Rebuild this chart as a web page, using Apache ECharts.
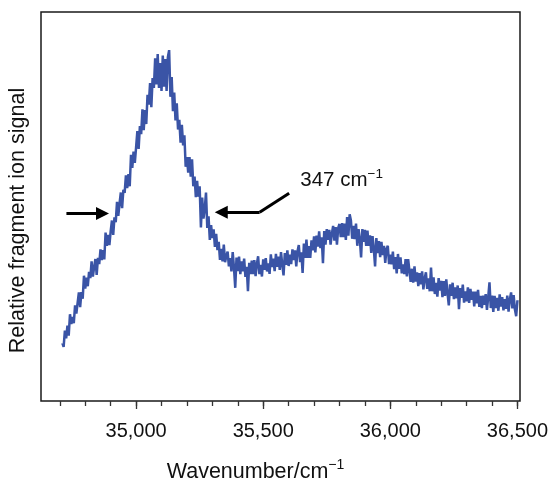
<!DOCTYPE html>
<html>
<head>
<meta charset="utf-8">
<script src="https://cdn.jsdelivr.net/npm/echarts@6/dist/echarts.min.js"></script>
<style>
html,body{margin:0;padding:0;background:#fff;}
#chart{width:551px;height:483px;}
</style>
</head>
<body>
<div id="chart"></div>
<script>
// Wavenumber sampling (cm^-1)
const wavenumbers = [
34710,34715,34720,34725,34730,34735,34740,34745,34750,34755,
34760,34765,34770,34775,34780,34785,34790,34795,34800,34805,
34810,34815,34820,34825,34830,34835,34840,34845,34850,34855,
34860,34865,34870,34875,34880,34885,34890,34895,34900,34905,
34910,34915,34920,34925,34930,34935,34940,34945,34950,34955,
34960,34965,34970,34975,34980,34985,34990,34995,35000,35005,
35010,35015,35020,35025,35030,35035,35040,35045,35050,35055,
35060,35065,35070,35075,35080,35085,35090,35095,35100,35105,
35110,35115,35120,35125,35130,35135,35140,35145,35150,35155,
35160,35165,35170,35175,35180,35185,35190,35195,35200,35205,
35210,35215,35220,35225,35230,35235,35240,35245,35250,35255,
35260,35265,35270,35275,35280,35285,35290,35295,35300,35305,
35310,35315,35320,35325,35330,35335,35340,35345,35350,35355,
35360,35365,35370,35375,35380,35385,35390,35395,35400,35405,
35410,35415,35420,35425,35430,35435,35440,35445,35450,35455,
35460,35465,35470,35475,35480,35485,35490,35495,35500,35505,
35510,35515,35520,35525,35530,35535,35540,35545,35550,35555,
35560,35565,35570,35575,35580,35585,35590,35595,35600,35605,
35610,35615,35620,35625,35630,35635,35640,35645,35650,35655,
35660,35665,35670,35675,35680,35685,35690,35695,35700,35705,
35710,35715,35720,35725,35730,35735,35740,35745,35750,35755,
35760,35765,35770,35775,35780,35785,35790,35795,35800,35805,
35810,35815,35820,35825,35830,35835,35840,35845,35850,35855,
35860,35865,35870,35875,35880,35885,35890,35895,35900,35905,
35910,35915,35920,35925,35930,35935,35940,35945,35950,35955,
35960,35965,35970,35975,35980,35985,35990,35995,36000,36005,
36010,36015,36020,36025,36030,36035,36040,36045,36050,36055,
36060,36065,36070,36075,36080,36085,36090,36095,36100,36105,
36110,36115,36120,36125,36130,36135,36140,36145,36150,36155,
36160,36165,36170,36175,36180,36185,36190,36195,36200,36205,
36210,36215,36220,36225,36230,36235,36240,36245,36250,36255,
36260,36265,36270,36275,36280,36285,36290,36295,36300,36305,
36310,36315,36320,36325,36330,36335,36340,36345,36350,36355,
36360,36365,36370,36375,36380,36385,36390,36395,36400,36405,
36410,36415,36420,36425,36430,36435,36440,36445,36450,36455,
36460,36465,36470,36475,36480,36485,36490,36495,36500
];

// Relative fragment ion signal (arbitrary units)
const signal = [
14.9,13.9,18.1,16.1,19.4,16.8,22.3,19.8,21.6,20.0,
24.6,22.5,25.2,27.9,24.1,28.0,26.3,32.2,28.9,31.7,
29.5,33.2,31.6,35.9,32.0,34.4,36.5,32.4,36.8,35.2,
39.0,36.2,38.8,36.4,43.3,39.9,42.7,40.1,43.6,46.4,
42.7,47.2,46.0,51.2,47.6,50.8,53.6,49.6,54.3,53.5,
58.0,54.7,58.3,55.2,63.3,59.9,64.1,61.2,65.2,69.4,
64.8,70.7,68.6,75.0,69.6,74.8,71.2,78.7,76.2,81.7,
75.5,83.0,80.5,88.1,81.4,89.2,80.5,86.9,79.7,88.8,
80.8,87.9,79.7,88.4,90.2,78.2,83.3,74.5,79.3,72.1,
76.5,69.8,72.3,66.4,71.0,65.7,68.3,60.2,62.7,58.7,
62.7,57.7,62.1,55.2,57.7,52.4,56.6,52.5,55.2,44.6,
52.3,46.9,49.4,53.6,44.5,47.5,41.4,45.2,41.9,44.1,
39.6,43.0,38.8,40.9,36.3,39.1,35.9,40.2,35.7,37.3,
38.4,34.6,36.7,33.3,38.3,34.3,29.1,36.9,33.4,37.1,
32.6,35.9,33.3,36.6,31.9,34.5,28.2,35.5,32.6,36.1,
32.6,36.2,32.1,35.2,37.2,32.6,35.0,32.0,36.4,33.7,
36.7,33.3,35.4,32.7,37.7,34.4,36.6,33.4,37.8,34.5,
37.1,33.7,38.3,35.0,32.3,38.0,35.0,38.7,34.7,37.6,
35.2,39.0,36.2,38.7,34.6,38.5,40.1,35.7,38.2,32.9,
40.5,36.8,41.5,36.8,39.8,36.8,41.3,38.7,42.3,38.2,
42.5,39.7,43.6,39.3,42.1,35.4,43.7,40.2,44.2,41.4,
44.0,40.2,43.0,45.0,41.2,44.7,40.2,44.5,45.5,42.1,
45.7,42.1,45.6,41.4,47.3,42.5,48.0,46.4,41.7,45.0,
41.6,45.6,39.9,44.2,41.6,36.9,44.2,40.9,44.0,39.9,
43.8,39.9,42.6,38.1,42.4,39.1,34.6,41.9,38.0,41.1,
37.0,40.9,37.5,39.9,35.5,39.1,39.9,35.2,37.6,35.1,
38.4,33.9,37.0,32.8,37.8,34.0,36.9,32.8,35.1,32.6,
36.5,32.0,36.5,33.6,30.6,34.0,30.4,34.6,30.7,33.1,
29.5,32.9,30.0,33.3,28.7,31.5,33.1,28.8,31.5,28.2,
34.3,28.2,31.8,27.5,30.4,26.8,31.6,28.4,30.9,26.7,
30.8,27.0,31.3,27.7,24.6,30.0,27.0,30.4,26.2,29.2,
26.4,29.7,23.6,29.0,26.5,29.9,25.3,28.2,25.6,29.2,
25.2,28.8,26.0,28.1,24.3,28.1,25.1,28.6,24.2,27.0,
23.9,27.1,24.7,27.5,23.4,26.7,30.5,23.9,27.1,22.9,
27.0,23.9,26.5,23.2,27.4,24.3,26.7,23.3,26.2,23.7,
27.1,23.0,26.1,27.9,23.8,27.2,23.5,21.8,25.9
];

// Axis range and ticks
const xMin = 34626, xMax = 36510;
const majorTicks = [35000, 35500, 36000, 36500];
const minorTicks = [34700,34800,34900,35000,35100,35200,35300,35400,35500,35600,35700,35800,35900,36000,36100,36200,36300,36400,36500];

// Annotation anchors (data units)
const leftArrow = [[34726, 48.2], [34868, 48.2]];
const rightArrowDiag = [[35602, 53.4], [35486, 48.5]];
const rightArrowFlat = [[35486, 48.5], [35335, 48.5]];
const peakWidthLabel = [35644, 56.6];
const peakWidthText = '347 cm{sup|\u22121}';

const FONT = '"Liberation Sans", Arial, Helvetica, sans-serif';
const chart = echarts.init(document.getElementById('chart'), null, {renderer: 'canvas'});

const arrowStyle = {color: '#000', width: 3, type: 'solid', cap: 'butt'};

chart.setOption({
  animation: false,
  backgroundColor: '#fff',
  grid: {left: 41, right: 31, top: 12, bottom: 82, show: true, borderColor: '#1a1a1a', borderWidth: 1.5, containLabel: false, outerBoundsMode: 'none'},
  xAxis: [{
    type: 'value', min: xMin, max: xMax, position: 'bottom',
    axisLine: {show: false},
    splitLine: {show: false},
    axisTick: {show: true, customValues: majorTicks, length: 8, lineStyle: {color: '#333', width: 1.3}},
    axisLabel: {show: true, customValues: majorTicks, margin: 20, fontSize: 20, fontFamily: FONT, color: '#111',
      formatter: v => v.toLocaleString('en-US')},
    name: 'Wavenumber/cm{sup|\u22121}', nameLocation: 'middle', nameGap: 57,
    nameTextStyle: {fontSize: 21.5, fontFamily: FONT, color: '#111', padding: [0, 50, 0, 0],
      rich: {sup: {fontSize: 14, fontFamily: FONT, color: '#111', padding: [0, 0, 15, 0]}}}
  }, {
    type: 'value', min: xMin, max: xMax, position: 'bottom', gridIndex: 0,
    axisLine: {show: false}, splitLine: {show: false}, axisLabel: {show: false},
    axisTick: {show: true, customValues: minorTicks, length: 5, lineStyle: {color: '#333', width: 1.3}}
  }],
  yAxis: {
    type: 'value', min: 0, max: 100,
    axisLine: {show: false}, axisTick: {show: false}, axisLabel: {show: false}, splitLine: {show: false},
    name: 'Relative fragment ion signal', nameLocation: 'middle', nameGap: 12,
    nameTextStyle: {fontSize: 21.5, fontFamily: FONT, color: '#111', padding: [0, 28, 0, 0]}
  },
  series: [{
    type: 'line',
    data: wavenumbers.map((w, i) => [w, signal[i]]),
    showSymbol: false, symbol: 'none', sampling: 'none',
    lineStyle: {color: '#3a54a6', width: 2.5},
    z: 2,
    markLine: {
      silent: true, animation: false, z: 5,
      label: {show: false},
      lineStyle: arrowStyle,
      symbolSize: 13,
      data: [
        [{coord: leftArrow[0], symbol: 'none'}, {coord: leftArrow[1], symbol: 'triangle'}],
        [{coord: rightArrowDiag[0], symbol: 'none'}, {coord: rightArrowDiag[1], symbol: 'none'}],
        [{coord: rightArrowFlat[0], symbol: 'none'}, {coord: rightArrowFlat[1], symbol: 'triangle'}]
      ]
    },
    markPoint: {
      silent: true, animation: false,
      data: [{
        coord: peakWidthLabel, symbol: 'circle', symbolSize: 1,
        itemStyle: {color: 'rgba(0,0,0,0)'},
        label: {show: true, position: 'right', distance: 0, formatter: peakWidthText,
          fontSize: 20.5, fontFamily: FONT, color: '#111',
          rich: {sup: {fontSize: 13.5, fontFamily: FONT, color: '#111', padding: [0, 0, 14, 0]}}}
      }]
    }
  }]
});
</script>
</body>
</html>
